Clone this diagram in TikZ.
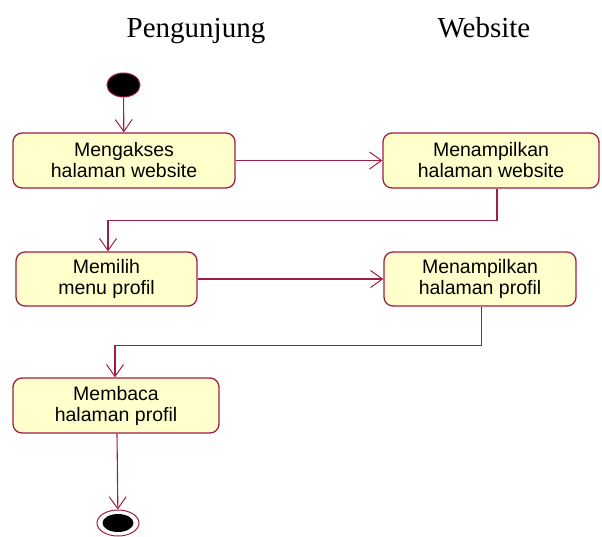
\documentclass[tikz,border=0pt]{standalone}
\usepackage{fontspec}
\setmainfont{Liberation Serif}
\newfontfamily\boxfont{Liberation Sans}
\usepackage{tikz}
\usetikzlibrary{arrows.meta,positioning,shapes.geometric}
\definecolor{actline}{RGB}{160,30,70}
\definecolor{actfill}{RGB}{255,255,204}

\begin{document}
\begin{tikzpicture}[x=1pt, y=-1pt,
    act/.style={rectangle, draw=actline, fill=actfill, rounded corners=9pt,
        minimum height=55pt, align=center, line width=1.3pt, inner sep=0pt,
        font=\boxfont\fontsize{19.5}{21}\selectfont},
    lane/.style={anchor=base, font=\fontsize{29}{34}\selectfont},
    arr/.style={-{Straight Barb[length=12pt,width=17pt,line width=1pt]}, draw=actline, line width=1.1pt}
]
\useasboundingbox (0,0) rectangle (602,536);

% swimlane titles
\node[lane] (tpeng) at (196,37) {Pengunjung};
\node[lane] (tweb) at (484,37) {Website};

% start
\node[ellipse, draw=actline, fill=black, line width=1pt, minimum width=33pt,
    minimum height=24pt, inner sep=0pt] (start) at (123.5,85) {};

\node[act, minimum width=222pt] (akses) at (124,160.5) {Mengakses\\halaman website};
\node[act, minimum width=216pt] (tampilweb) at (491,160.5) {Menampilkan\\halaman website};
\node[act, minimum width=181pt, minimum height=54pt] (pilih) at (106.5,279) {Memilih\\menu profil};
\node[act, minimum width=192pt, minimum height=54pt] (tampilprof) at (480,279) {Menampilkan\\halaman profil};
\node[act, minimum width=206pt] (baca) at (116,405.5) {Membaca\\halaman profil};

% end
\node[ellipse, draw=actline, line width=1pt, minimum width=42pt, minimum height=26pt,
    inner sep=0pt] (stop) at (118,523) {};
\node[ellipse, fill=black, minimum width=31pt, minimum height=18pt, inner sep=0pt]
    (stopin) at (stop.center) {};

\draw[arr] (start) -- (akses);
\draw[arr] (akses) -- (tampilweb);
\draw[arr] ([xshift=6pt]tampilweb.south) -- ++(0,32) -| ([xshift=1.5pt]pilih.north);
\draw[arr] (pilih) -- (tampilprof);
\draw[arr] ([xshift=1.5pt]tampilprof.south) -- ++(0,39) -| ([xshift=-1pt]baca.north);
\draw[arr] ([xshift=1pt]baca.south) -- (stop);
\end{tikzpicture}
\end{document}
